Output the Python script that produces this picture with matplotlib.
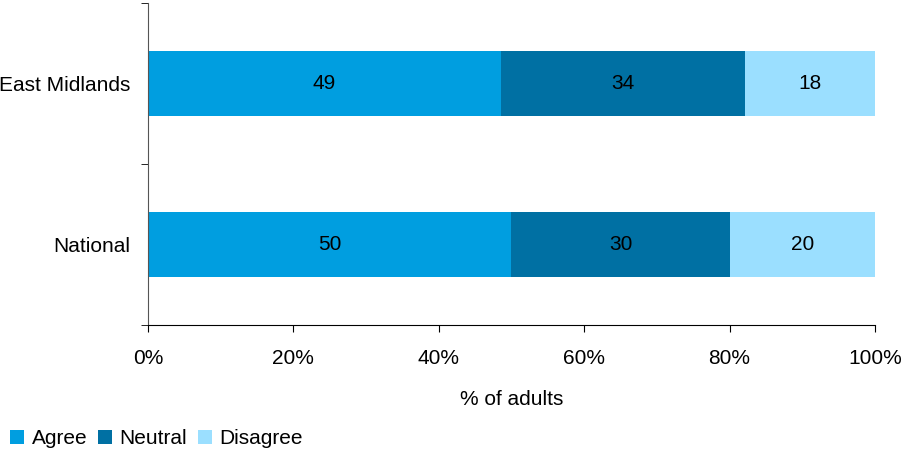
import numpy as np
import matplotlib.pyplot as plt
from matplotlib.ticker import PercentFormatter

plt.rcParams['font.family'] = ['Liberation Sans', 'DejaVu Sans']

# Data (labels shown are rounded; bars are normalised to 100%)
regions = ["National", "East Midlands"]
series = ["Agree", "Neutral", "Disagree"]
agree = [50, 49]
neutral = [30, 34]
disagree = [20, 18]
colors = ["#009EE0", "#0070A3", "#9BDFFF"]

values = np.array([agree, neutral, disagree], dtype=float)
shares = values / values.sum(axis=0) * 100

FS = 15

fig = plt.figure(figsize=(9.03, 4.5), dpi=100)
ax = fig.add_axes([148/903, 1 - 325/450, 727/903, 322/450])

y = np.arange(len(regions))
left = np.zeros(len(regions))
for i, name in enumerate(series):
    bars = ax.barh(y, shares[i], left=left, height=0.4, color=colors[i], label=name)
    for j, b in enumerate(bars):
        ax.text(left[j] + shares[i][j] / 2, y[j], f"{int(values[i][j])}",
                ha='center', va='center', fontsize=FS, color='black')
    left += shares[i]

ax.set_xlim(0, 100)
ax.set_ylim(-0.5, 1.5)
ax.xaxis.set_major_formatter(PercentFormatter(decimals=0))
ax.set_xticks(np.arange(0, 101, 20))
ax.set_yticks(y)
ax.set_yticklabels(regions)
ax.set_yticks([-0.5, 0.5, 1.5], minor=True)
ax.tick_params(axis='y', which='major', length=0, pad=12.5, labelsize=FS)
ax.tick_params(axis='y', which='minor', length=5, direction='out')
ax.tick_params(axis='x', length=5, direction='out', pad=12, labelsize=FS)
for s in ['top', 'right']:
    ax.spines[s].set_visible(False)
ax.spines['left'].set_color('#555555')
ax.set_xlabel("% of adults", fontsize=FS, labelpad=16)

fig.legend(loc='lower left', bbox_to_anchor=(0.004, -0.01), ncol=3, frameon=False,
           fontsize=FS, handlelength=0.7, handleheight=0.7, handletextpad=0.35,
           columnspacing=0.5, borderaxespad=0.1, borderpad=0.2)

fig.savefig("out.png", dpi=100)
